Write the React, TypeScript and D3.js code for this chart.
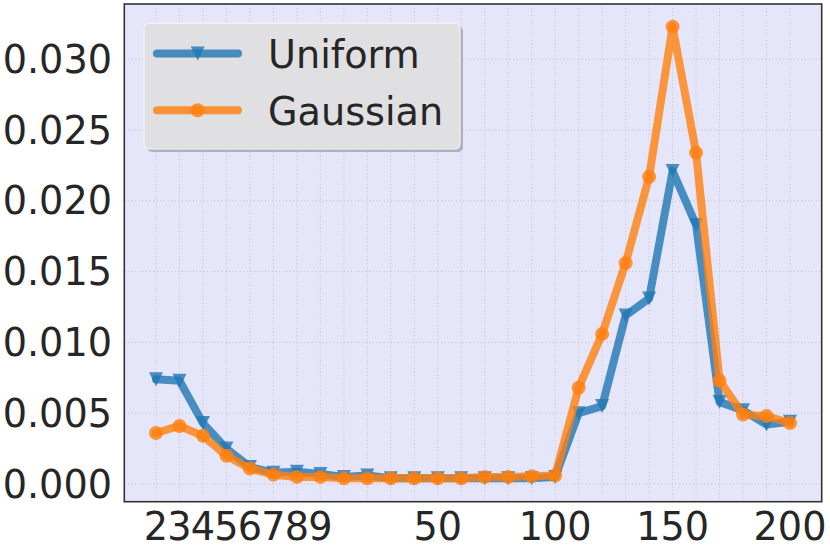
import React from "react";
import * as d3 from "d3";

const categories = [2, 3, 4, 5, 6, 7, 8, 9, 10, 20, 30, 40, 50, 60, 70, 80, 90, 100, 110, 120, 130, 140, 150, 160, 170, 180, 190, 200];
const uniform = [0.0074, 0.0073, 0.0043, 0.0025, 0.0012, 0.0008, 0.00087, 0.0007, 0.0005, 0.0006, 0.0004, 0.0004, 0.0004, 0.0004, 0.0004, 0.0004, 0.0004, 0.0005, 0.005, 0.0055, 0.0119, 0.0131, 0.0221, 0.0183, 0.0058, 0.0052, 0.0042, 0.0044];
const gaussian = [0.0036, 0.0041, 0.0034, 0.002, 0.0011, 0.00066, 0.0005, 0.0005, 0.0004, 0.0004, 0.0004, 0.0004, 0.0004, 0.0004, 0.0005, 0.0005, 0.00055, 0.0006, 0.0068, 0.0106, 0.0156, 0.0217, 0.0323, 0.0234, 0.0073, 0.0049, 0.0048, 0.0043];
const xTickValues = [2, 3, 4, 5, 6, 7, 8, 9, 50, 100, 150, 200];
const yTickValues = [0, 0.005, 0.01, 0.015, 0.02, 0.025, 0.03];
const seriesNames = ["Uniform", "Gaussian"];

const W = 830, H = 554;
const L = 124.3, R = 821.7, T = 4, B = 501.7;
const FONT = "DejaVu Sans, sans-serif";
const FS = 38.2;
const TEXT = "#262626";
const BLUE = "#1f77b4", ORANGE = "#ff7f0e";

const x = d3.scaleLinear().domain([-1.35, categories.length - 1 + 1.35]).range([L, R]);
const y = d3.scaleLinear().domain([-0.00125, 0.0339]).range([B, T]);
const xi = (v: number) => x(categories.indexOf(v));

const triPath = (s: number) => `M${-s},${-s}L${s},${-s}L0,${s}Z`;

export default function App() {
  const line = d3.line<number>().x((_, i) => x(i)).y((d) => y(d));
  const series = [
    { name: seriesNames[0], data: uniform, color: BLUE, marker: "tri" },
    { name: seriesNames[1], data: gaussian, color: ORANGE, marker: "circle" },
  ];
  const mk = (kind: string, cx: number, cy: number, color: string, key: any) =>
    kind === "tri" ? (
      <path key={key} d={triPath(7)} transform={`translate(${cx},${cy})`} fill={color} opacity={0.8} />
    ) : (
      <circle key={key} cx={cx} cy={cy} r={7} fill={color} opacity={0.8} />
    );
  return (
    <svg width={W} height={H} style={{ position: "absolute", left: 0, top: 0 }} fontFamily={FONT}>
      <rect x={0} y={0} width={W} height={H} fill="#ffffff" />
      <rect x={L} y={T} width={R - L} height={B - T} fill="#E6E6FA" />
      <g stroke="#c4c4c8" strokeWidth={1} strokeDasharray="1.2,2.4">
        {categories.map((c, i) => (
          <line key={"vx" + i} x1={x(i)} x2={x(i)} y1={T} y2={B} />
        ))}
        {yTickValues.map((v) => (
          <line key={"hy" + v} x1={L} x2={R} y1={y(v)} y2={y(v)} />
        ))}
      </g>
      {series.map((s) => (
        <g key={s.name}>
          <path d={line(s.data) || ""} fill="none" stroke={s.color} strokeWidth={8} opacity={0.8} strokeLinejoin="round" strokeLinecap="round" />
          {s.data.map((d, i) => mk(s.marker, x(i), y(d), s.color, i))}
        </g>
      ))}
      <rect x={L} y={T} width={R - L} height={B - T} fill="none" stroke="#333333" strokeWidth={1.6} />
      <g fontSize={FS} fill={TEXT}>
        {yTickValues.map((v) => (
          <text key={"yl" + v} x={112} y={y(v) + 13.5} textAnchor="end">
            {d3.format(".3f")(v)}
          </text>
        ))}
        {xTickValues.map((v) => (
          <text key={"xl" + v} x={xi(v)} y={540} textAnchor="middle">
            {String(v)}
          </text>
        ))}
      </g>
      <g>
        <rect x={147} y={26.3} width={316} height={125.7} rx={5} fill="#9a9aa6" opacity={0.7} />
        <rect x={144} y={23.3} width={316} height={125.7} rx={5} fill="#e0e0e2" stroke="#f2f2f4" strokeWidth={1.2} />
        {series.map((s, k) => {
          const ly = 53.5 + k * 56.7;
          return (
            <g key={"lg" + k}>
              <line x1={157} x2={238} y1={ly} y2={ly} stroke={s.color} strokeWidth={8} opacity={0.8} strokeLinecap="round" />
              {mk(s.marker, 197.7, ly, s.color, "m" + k)}
              <text x={268} y={ly + 14.8} fontSize={FS} fill={TEXT}>
                {s.name}
              </text>
            </g>
          );
        })}
      </g>
    </svg>
  );
}
